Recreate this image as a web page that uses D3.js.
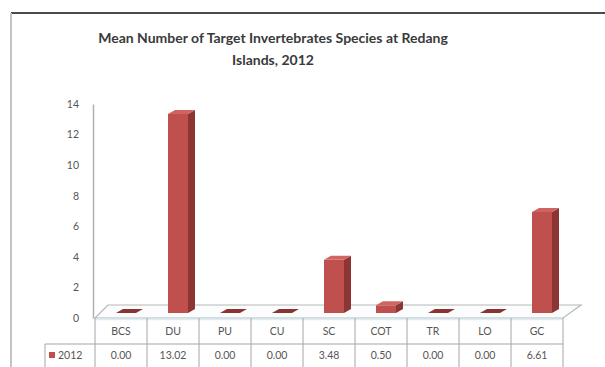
<!DOCTYPE html>
<html>
<head>
<meta charset="utf-8">
<script src="https://cdn.jsdelivr.net/npm/d3@7"></script>
<style>
  html, body { margin: 0; padding: 0; background: #fff; }
  svg { display: block; }
  text { font-family: Lato, "Open Sans", sans-serif; }
</style>
</head>
<body>
<script>
// Mean number of target invertebrate species per group, Redang Islands 2012
const categories = ["BCS", "DU", "PU", "CU", "SC", "COT", "TR", "LO", "GC"];
const values2012 = [0.00, 13.02, 0.00, 0.00, 3.48, 0.50, 0.00, 0.00, 6.61];
const seriesName = "2012";
const yTicks = [0, 2, 4, 6, 8, 10, 12, 14];
const titleLines = ["Mean Number of Target Invertebrates Species at Redang", "Islands, 2012"];

const W = 605, H = 367;
const svg = d3.select("body").append("svg").attr("width", W).attr("height", H);

// chart frame
svg.append("line").attr("x1", 11).attr("x2", W).attr("y1", 13).attr("y2", 13)
  .attr("stroke", "#4a4a4a").attr("stroke-width", 2);
svg.append("line").attr("x1", 11).attr("x2", 11).attr("y1", 13).attr("y2", H)
  .attr("stroke", "#c4c4c4").attr("stroke-width", 2);

// title
svg.append("g").selectAll("text").data(titleLines).join("text")
  .attr("x", 273).attr("y", (d, i) => 43 + i * 22)
  .attr("text-anchor", "middle")
  .attr("font-size", 14).attr("font-weight", "bold").attr("fill", "#3a3a3a")
  .text(d => d);

// scales
const x = d3.scaleBand().domain(categories).range([95, 563]);
const y = d3.scaleLinear().domain([0, 14]).range([318, 104]);

// floor (3D base plane)
const floorDepth = { l: [13, -13], r: [18, -13] };
const floorPts = [
  [x.range()[0], y(0)],
  [x.range()[1], y(0)],
  [x.range()[1] + floorDepth.r[0], y(0) + floorDepth.r[1]],
  [x.range()[0] + floorDepth.l[0], y(0) + floorDepth.l[1]]
];
svg.append("polygon").attr("points", floorPts.map(p => p.join(",")).join(" "))
  .attr("fill", "#fbfcfd").attr("stroke", "#b8b8b8").attr("stroke-width", 1.2);
svg.append("line").attr("x1", x.range()[0]).attr("x2", x.range()[1])
  .attr("y1", y(0) + 1.5).attr("y2", y(0) + 1.5)
  .attr("stroke", "#dbeef5").attr("stroke-width", 1.5);

// value axis
const yAxis = d3.axisLeft(y).tickValues(yTicks).tickSize(0).tickPadding(14).tickFormat(d3.format("d"));
const ag = svg.append("g").attr("transform", `translate(${x.range()[0] - 2},0)`).call(yAxis);
ag.select(".domain").attr("stroke", "#b0b0b0").attr("stroke-width", 1.5);
ag.selectAll("text").attr("font-size", 10.5).attr("fill", "#555")
  .attr("font-family", "Lato, sans-serif");

// 3D columns
const barW = 20, shift = 5, baseLift = 5, dep = [7, -4];
const bars = svg.append("g");
categories.forEach((c, i) => {
  const v = values2012[i];
  const x0 = x(c) + x.bandwidth() / 2 + shift - barW / 2;
  const x1 = x0 + barW;
  const yb = y(0) - baseLift;
  const yt = y(v) - baseLift;
  const g = bars.append("g");
  if (yb - yt > 0.5) {
    g.append("rect").attr("x", x0).attr("y", yt).attr("width", barW).attr("height", yb - yt)
      .attr("fill", "#c0504d");
    g.append("polygon").attr("points", [
      [x1, yt], [x1 + dep[0], yt + dep[1]], [x1 + dep[0], yb + dep[1]], [x1, yb]
    ].map(p => p.join(",")).join(" ")).attr("fill", "#8c3532");
    g.append("polygon").attr("points", [
      [x0, yt], [x1, yt], [x1 + dep[0], yt + dep[1]], [x0 + dep[0], yt + dep[1]]
    ].map(p => p.join(",")).join(" ")).attr("fill", "#cf6461");
  } else {
    g.append("polygon").attr("points", [
      [x0, yb], [x1, yb], [x1 + dep[0], yb + dep[1]], [x0 + dep[0], yb + dep[1]]
    ].map(p => p.join(",")).join(" ")).attr("fill", "#8a3431");
  }
});

// data table
const rowTop = y(0), rowMid = 344, rowBot = H + 2;
const tbl = svg.append("g").attr("stroke", "#a5a5a5").attr("stroke-width", 1);
x.domain().concat([null]).forEach((c, i) => {
  const xx = c === null ? x.range()[1] : x(c);
  tbl.append("line").attr("x1", xx).attr("x2", xx).attr("y1", rowTop).attr("y2", rowBot);
});
tbl.append("line").attr("x1", 45).attr("x2", x.range()[1]).attr("y1", rowMid).attr("y2", rowMid);
tbl.append("line").attr("x1", 45).attr("x2", 45).attr("y1", rowMid).attr("y2", rowBot);

svg.append("g").selectAll("text").data(categories).join("text")
  .attr("x", d => x(d) + x.bandwidth() / 2).attr("y", 335)
  .attr("text-anchor", "middle").attr("font-size", 10.5).attr("fill", "#555")
  .text(d => d);
svg.append("g").selectAll("text").data(values2012).join("text")
  .attr("x", (d, i) => x(categories[i]) + x.bandwidth() / 2).attr("y", 359)
  .attr("text-anchor", "middle").attr("font-size", 10.5).attr("fill", "#555")
  .text(d => d3.format(".2f")(d));

// legend key in the table
svg.append("rect").attr("x", 49).attr("y", 352).attr("width", 6).attr("height", 6).attr("fill", "#c0504d");
svg.append("text").attr("x", 58).attr("y", 359).attr("font-size", 10.5).attr("fill", "#555").text(seriesName);
</script>
</body>
</html>
